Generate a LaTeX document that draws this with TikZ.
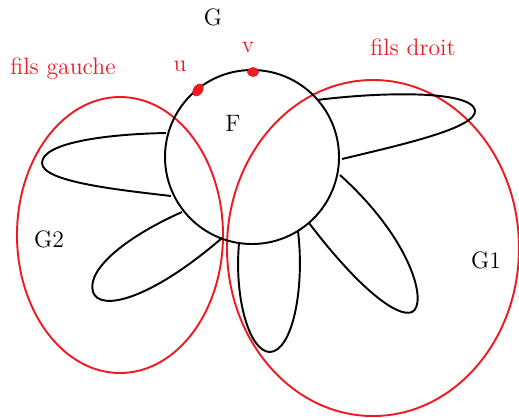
\documentclass[tikz,border=0pt]{standalone}
\usepackage{xcolor}
\usetikzlibrary{positioning}
\definecolor{rd}{RGB}{237,28,36}

\begin{document}
\begin{tikzpicture}[x=0.02cm, y=-0.02cm,
  blackline/.style={line width=1.1pt, black},
  redline/.style={line width=1.1pt, rd},
  redlabel/.style={rd, font=\fontsize{13.5}{16}\selectfont},
  blacklabel/.style={black, font=\fontsize{13.5}{16}\selectfont},
  dotmark/.style={fill=rd, draw=rd}]

\useasboundingbox (0,0) rectangle (519,417);

% subgraphs
\draw[redline] (120,235) ellipse [x radius=103, y radius=138];
\draw[redline] (373,248) ellipse [x radius=146, y radius=168];

% face F
\coordinate (c) at (252,157);
\draw[blackline] (c) circle [radius=87];

% petals
\draw[blackline] (166,133) .. controls (110,134) and (42,142) .. (42,163)
  .. controls (42,182) and (120,190) .. (171,196);
\draw[blackline] (182,212) .. controls (130,235) and (86,268) .. (93,292)
  .. controls (100,312) and (150,300) .. (222,238);
\draw[blackline] (239,243) .. controls (234,300) and (250,352) .. (270,352)
  .. controls (292,351) and (305,290) .. (298,231);
\draw[blackline] (309,223) .. controls (360,290) and (398,318) .. (412,312)
  .. controls (428,304) and (412,240) .. (340,175);
\draw[blackline] (317,100) .. controls (380,92) and (470,90) .. (475,110)
  .. controls (478,128) and (400,145) .. (342,159);

% vertices u and v
\fill[dotmark, rotate around={-35:(198,90)}] (198,90) ellipse [x radius=4.5, y radius=6.5];
\fill[dotmark] (253,72) ellipse [x radius=5.5, y radius=4.5];

\node[blacklabel] (G) at (213,17) {G};
\node[blacklabel] (F) at (233,123) {F};
\node[redlabel] (u) at (180,66) {u};
\node[redlabel] (v) at (248,47) {v};
\node[redlabel] (fg) at (63,69) {fils gauche};
\node[redlabel] (fd) at (413,47) {fils droit};
\node[blacklabel] (G2) at (49,239) {G2};
\node[blacklabel] (G1) at (486,260) {G1};

\end{tikzpicture}
\end{document}
